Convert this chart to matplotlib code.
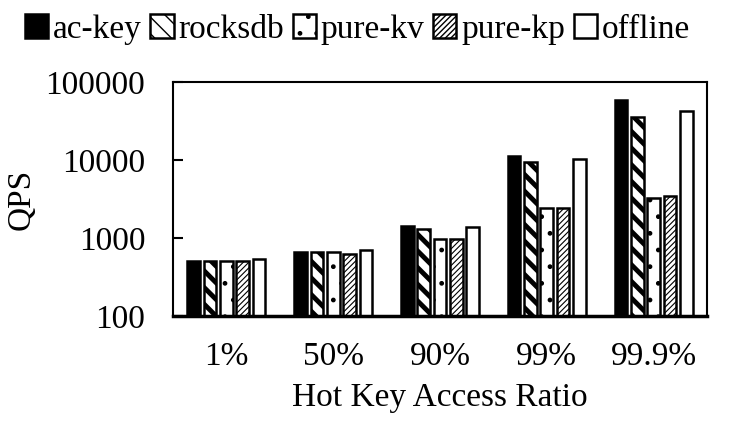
# -*- coding: utf-8 -*-

import numpy as np
import matplotlib.pyplot as plt
from matplotlib.ticker import FixedLocator, NullLocator

plt.rcParams['font.family'] = ['Liberation Serif', 'DejaVu Serif']

ratios = ['1%', '50%', '90%', '99%', '99.9%']
series = ['ac-key', 'rocksdb', 'pure-kv', 'pure-kp', 'offline']
ac_key = [510, 665, 1410, 11300, 59000]
rocksdb = [505, 660, 1310, 9300, 35500]
pure_kv = [505, 660, 960, 2420, 3290]
pure_kp = [505, 630, 960, 2420, 3480]
offline = [540, 700, 1380, 10400, 42500]
valeurs = [ac_key, rocksdb, pure_kv, pure_kp, offline]

styles = [
    dict(color='black', hatch=None, hlw=1.0),
    dict(color='white', hatch='\\\\', hlw=3.5),
    dict(color='white', hatch='.', hlw=1.0),
    dict(color='white', hatch='//////', hlw=0.8),
    dict(color='white', hatch=None, hlw=1.0),
]

fig = plt.figure(figsize=(7.34, 4.36), dpi=100)
ax = fig.add_axes([0.2357, 0.2752, 0.7275, 0.5367])

x = np.arange(len(ratios))
pas = 0.153
largeur = 0.118
for i, (nom, v, st) in enumerate(zip(series, valeurs, styles)):
    pos = x + (i - 2) * pas
    plt.rcParams['hatch.linewidth'] = st['hlw']
    barres = ax.bar(pos, v, largeur, color=st['color'], edgecolor='black',
                    linewidth=1.8, hatch=st['hatch'], label=nom)
    for b in barres:
        if hasattr(b, 'set_hatch_linewidth'):
            b.set_hatch_linewidth(st['hlw'])

ax.set_yscale('log')
ax.set_ylim(100, 100000)
ax.yaxis.set_major_locator(FixedLocator([100, 1000, 10000, 100000]))
ax.set_yticklabels(['100', '1000', '10000', '100000'])
ax.yaxis.set_minor_locator(NullLocator())
ax.set_xlim(-0.5, 4.5)
ax.set_xticks(x)
ax.set_xticklabels(ratios)
ax.tick_params(axis='y', direction='in', length=7, width=1.5, labelsize=24, pad=20)
ax.tick_params(axis='x', length=0, labelsize=24, pad=18)
for s in ax.spines.values():
    s.set_linewidth(1.5)
ax.spines['bottom'].set_linewidth(2.5)

ax.set_xlabel('Hot Key Access Ratio', fontsize=24, labelpad=8)
ax.set_ylabel('QPS', fontsize=24)
ax.yaxis.set_label_coords(-0.255, 0.5)

fig.legend(loc='upper center', bbox_to_anchor=(0.487, 1.017), ncol=5,
           frameon=False, fontsize=24, handlelength=0.7, handleheight=0.7,
           handletextpad=0.15, columnspacing=0.25, borderaxespad=0.25)

plt.savefig('out.png', dpi=100)
